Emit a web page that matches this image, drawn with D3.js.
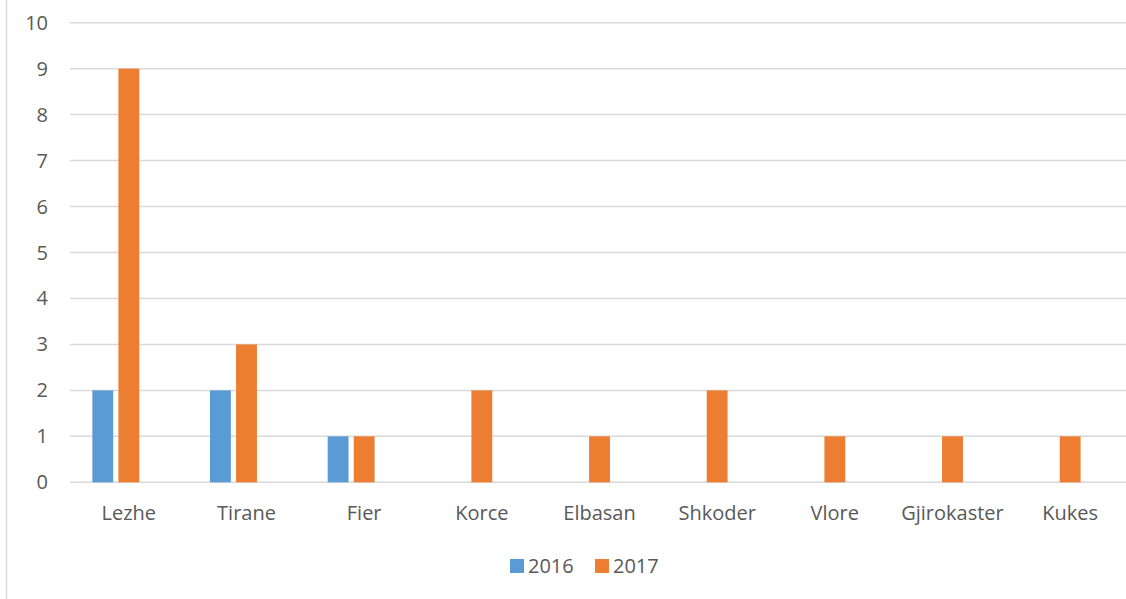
<!DOCTYPE html>
<html>
<head>
<meta charset="utf-8">
<script src="https://cdn.jsdelivr.net/npm/d3@7"></script>
<style>
  body { margin: 0; background: #fff; }
  svg { display: block; font-family: "Open Sans", "Noto Sans", sans-serif; }
</style>
</head>
<body>
<div id="chart"></div>
<script>
// Data
const cities = ["Lezhe", "Tirane", "Fier", "Korce", "Elbasan", "Shkoder", "Vlore", "Gjirokaster", "Kukes"];
const values2016 = [2, 2, 1, 0, 0, 0, 0, 0, 0];
const values2017 = [9, 3, 1, 2, 1, 2, 1, 1, 1];
const seriesNames = ["2016", "2017"];
const colors = ["#5B9BD5", "#ED7D31"];
const yTicks = [0, 1, 2, 3, 4, 5, 6, 7, 8, 9, 10];

const W = 1126, H = 599;
const plot = { left: 70, right: 1129, top: 22.7, bottom: 482.3 };

const svg = d3.select("#chart").append("svg")
  .attr("width", W)
  .attr("height", H);

// outer frame line on the left
svg.append("line")
  .attr("x1", 6.5).attr("x2", 6.5)
  .attr("y1", 0).attr("y2", H)
  .attr("stroke", "#d9d9d9").attr("stroke-width", 1.5);

const x = d3.scaleBand().domain(cities).range([plot.left, plot.right]).paddingInner(0).paddingOuter(0);
// three slots per category (third slot empty, like the source chart)
const slots = [...seriesNames, "_"];
const groupW = 73;
const x1 = d3.scaleBand().domain(slots).range([0, groupW]).paddingInner(0.2);
const groupOffset = x.bandwidth() / 2 - groupW / 2;

const y = d3.scaleLinear().domain([0, 10]).range([plot.bottom, plot.top]);

// grid
svg.append("g")
  .selectAll("line")
  .data(yTicks)
  .join("line")
  .attr("x1", plot.left).attr("x2", W)
  .attr("y1", d => y(d)).attr("y2", d => y(d))
  .attr("stroke", "#d9d9d9").attr("stroke-width", 1.5);

// y labels
svg.append("g")
  .selectAll("text")
  .data(yTicks)
  .join("text")
  .attr("x", 48)
  .attr("y", d => y(d))
  .attr("dy", "0.35em")
  .attr("text-anchor", "end")
  .attr("font-size", 20)
  .attr("fill", "#595959")
  .text(d => d);

// bars
const series = [values2016, values2017];
series.forEach((vals, si) => {
  svg.append("g")
    .selectAll("rect")
    .data(cities.map((c, i) => ({ city: c, v: vals[i] })))
    .join("rect")
    .attr("x", d => x(d.city) + groupOffset + x1(seriesNames[si]))
    .attr("width", x1.bandwidth())
    .attr("y", d => y(d.v))
    .attr("height", d => y(0) - y(d.v))
    .attr("fill", colors[si]);
});

// x labels
svg.append("g")
  .selectAll("text")
  .data(cities)
  .join("text")
  .attr("x", d => x(d) + x.bandwidth() / 2)
  .attr("y", 513)
  .attr("dy", "0.35em")
  .attr("text-anchor", "middle")
  .attr("font-size", 20)
  .attr("fill", "#595959")
  .text(d => d);

// legend
const legend = svg.append("g").attr("transform", "translate(510,566)");
const legX = [0, 85];
seriesNames.forEach((s, i) => {
  const g = legend.append("g").attr("transform", `translate(${legX[i]},0)`);
  g.append("rect").attr("x", 0).attr("y", -7).attr("width", 14).attr("height", 14).attr("fill", colors[i]);
  g.append("text").attr("x", 18).attr("y", 0).attr("dy", "0.35em")
    .attr("font-size", 20).attr("fill", "#595959").text(s);
});
</script>
</body>
</html>
